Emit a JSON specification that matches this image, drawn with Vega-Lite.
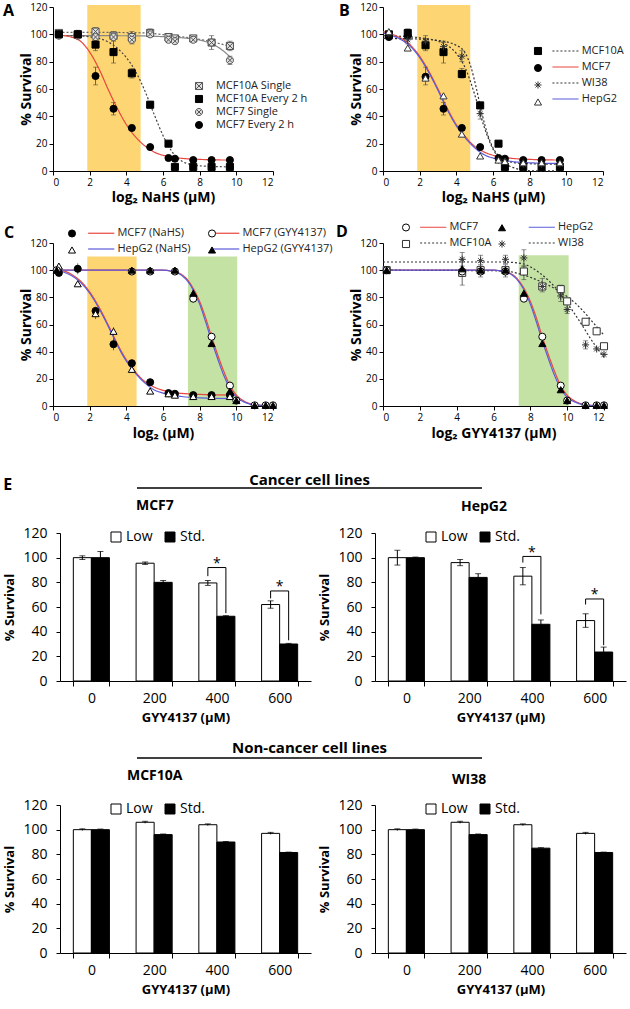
{
"$schema": "https://vega.github.io/schema/vega-lite/v6.json",
"background": "white",
"padding": {"left": 2, "top": 2, "right": 0, "bottom": 0},
"config": {
 "view": {"stroke": null},
 "font": "Open Sans",
 "axis": {"grid": false, "labelOverlap": false, "domainColor": "black", "tickColor": "black", "labelColor": "black", "titleColor": "black", "labelFont": "Open Sans", "titleFont": "Open Sans", "titleFontWeight": "bold", "tickSize": 4},
 "legend": {"labelFont": "Open Sans", "labelColor": "#222", "padding": 0},
 "title": {"font": "Open Sans", "fontWeight": "bold", "color": "black"}
},
"datasets": {
 "aCur": [
  {"fit":"MCF10A Single","x":0.3,"y":101.5},{"fit":"MCF10A Single","x":2,"y":101.5},{"fit":"MCF10A Single","x":4,"y":101.3},{"fit":"MCF10A Single","x":5,"y":101},{"fit":"MCF10A Single","x":6,"y":99.8},{"fit":"MCF10A Single","x":7,"y":98.3},{"fit":"MCF10A Single","x":8,"y":96.3},{"fit":"MCF10A Single","x":9,"y":93.5},{"fit":"MCF10A Single","x":9.7,"y":91},
  {"fit":"MCF7 Single","x":0.3,"y":99},{"fit":"MCF7 Single","x":3,"y":99},{"fit":"MCF7 Single","x":5,"y":98.8},{"fit":"MCF7 Single","x":6,"y":98.3},{"fit":"MCF7 Single","x":7,"y":97.5},{"fit":"MCF7 Single","x":8,"y":95.8},{"fit":"MCF7 Single","x":8.7,"y":92.8},{"fit":"MCF7 Single","x":9.2,"y":88.8},{"fit":"MCF7 Single","x":9.7,"y":83},
  {"fit":"MCF10A Every 2 h","x":0.3,"y":99.2},{"fit":"MCF10A Every 2 h","x":1.5,"y":98.8},{"fit":"MCF10A Every 2 h","x":2.5,"y":97},{"fit":"MCF10A Every 2 h","x":3,"y":94.5},{"fit":"MCF10A Every 2 h","x":3.5,"y":90},{"fit":"MCF10A Every 2 h","x":4,"y":83},{"fit":"MCF10A Every 2 h","x":4.5,"y":73},{"fit":"MCF10A Every 2 h","x":5,"y":59},{"fit":"MCF10A Every 2 h","x":5.5,"y":42},{"fit":"MCF10A Every 2 h","x":6,"y":26},{"fit":"MCF10A Every 2 h","x":6.5,"y":14},{"fit":"MCF10A Every 2 h","x":7,"y":7.5},{"fit":"MCF10A Every 2 h","x":7.5,"y":4.8},{"fit":"MCF10A Every 2 h","x":8,"y":3.8},{"fit":"MCF10A Every 2 h","x":9,"y":3.2},{"fit":"MCF10A Every 2 h","x":9.7,"y":3},
  {"fit":"MCF7 Every 2 h","x":0.3,"y":99.5},{"fit":"MCF7 Every 2 h","x":1,"y":98},{"fit":"MCF7 Every 2 h","x":1.5,"y":95},{"fit":"MCF7 Every 2 h","x":2,"y":87},{"fit":"MCF7 Every 2 h","x":2.5,"y":75},{"fit":"MCF7 Every 2 h","x":3,"y":60},{"fit":"MCF7 Every 2 h","x":3.5,"y":46},{"fit":"MCF7 Every 2 h","x":4,"y":34},{"fit":"MCF7 Every 2 h","x":4.5,"y":25},{"fit":"MCF7 Every 2 h","x":5,"y":18.5},{"fit":"MCF7 Every 2 h","x":5.5,"y":14},{"fit":"MCF7 Every 2 h","x":6,"y":11.5},{"fit":"MCF7 Every 2 h","x":6.5,"y":10.2},{"fit":"MCF7 Every 2 h","x":7,"y":9.3},{"fit":"MCF7 Every 2 h","x":8,"y":8.5},{"fit":"MCF7 Every 2 h","x":9,"y":8.1},{"fit":"MCF7 Every 2 h","x":9.7,"y":8}
 ],
 "aPts": [
  {"cell":"MCF10A Single","x":0.32,"y":101},{"cell":"MCF10A Single","x":1.35,"y":100},{"cell":"MCF10A Single","x":2.32,"y":102},{"cell":"MCF10A Single","x":3.3,"y":99},{"cell":"MCF10A Single","x":4.3,"y":98},{"cell":"MCF10A Single","x":5.3,"y":101},{"cell":"MCF10A Single","x":6.3,"y":98},{"cell":"MCF10A Single","x":6.65,"y":97},{"cell":"MCF10A Single","x":7.65,"y":97},{"cell":"MCF10A Single","x":8.65,"y":94},{"cell":"MCF10A Single","x":9.65,"y":91.5},
  {"cell":"MCF7 Single","x":0.32,"y":99},{"cell":"MCF7 Single","x":1.35,"y":99},{"cell":"MCF7 Single","x":2.32,"y":98},{"cell":"MCF7 Single","x":3.3,"y":98},{"cell":"MCF7 Single","x":4.3,"y":96},{"cell":"MCF7 Single","x":5.3,"y":100},{"cell":"MCF7 Single","x":6.3,"y":96},{"cell":"MCF7 Single","x":6.65,"y":95},{"cell":"MCF7 Single","x":7.65,"y":96},{"cell":"MCF7 Single","x":8.65,"y":94},{"cell":"MCF7 Single","x":9.65,"y":81},
  {"cell":"MCF10A Every 2 h","x":0.32,"y":100},{"cell":"MCF10A Every 2 h","x":1.35,"y":100},{"cell":"MCF10A Every 2 h","x":2.32,"y":92.5},{"cell":"MCF10A Every 2 h","x":3.3,"y":87},{"cell":"MCF10A Every 2 h","x":4.3,"y":71.5},{"cell":"MCF10A Every 2 h","x":5.3,"y":48.5},{"cell":"MCF10A Every 2 h","x":6.3,"y":20},{"cell":"MCF10A Every 2 h","x":6.65,"y":3},{"cell":"MCF10A Every 2 h","x":7.65,"y":3},{"cell":"MCF10A Every 2 h","x":8.65,"y":3},{"cell":"MCF10A Every 2 h","x":9.65,"y":3},
  {"cell":"MCF7 Every 2 h","x":0.32,"y":100},{"cell":"MCF7 Every 2 h","x":1.35,"y":100},{"cell":"MCF7 Every 2 h","x":2.32,"y":69.5},{"cell":"MCF7 Every 2 h","x":3.3,"y":45.5},{"cell":"MCF7 Every 2 h","x":4.3,"y":31.5},{"cell":"MCF7 Every 2 h","x":5.3,"y":17.5},{"cell":"MCF7 Every 2 h","x":6.3,"y":9.5},{"cell":"MCF7 Every 2 h","x":6.65,"y":9},{"cell":"MCF7 Every 2 h","x":7.65,"y":8},{"cell":"MCF7 Every 2 h","x":8.65,"y":8},{"cell":"MCF7 Every 2 h","x":9.65,"y":8}
 ],
 "aErr": [
  {"x":0.32,"lo":98,"hi":102},{"x":1.35,"lo":97,"hi":103},{"x":2.32,"lo":63,"hi":76},{"x":3.3,"lo":41,"hi":50},{"x":2.32,"lo":88,"hi":97},{"x":3.3,"lo":79,"hi":95},{"x":4.3,"lo":68,"hi":75},{"x":5.3,"lo":46,"hi":51},{"x":2.32,"lo":99,"hi":105},{"x":3.3,"lo":96,"hi":102},{"x":4.3,"lo":93,"hi":102},{"x":5.3,"lo":98,"hi":104},{"x":6.3,"lo":94,"hi":100},{"x":6.65,"lo":93,"hi":99},{"x":8.65,"lo":89,"hi":99},{"x":9.65,"lo":88,"hi":95},{"x":9.65,"lo":78,"hi":84}
 ],
 "bCur": [
  {"fit":"MCF10A","x":0,"y":99},{"fit":"MCF10A","x":1,"y":98.5},{"fit":"MCF10A","x":2,"y":97.5},{"fit":"MCF10A","x":3,"y":95},{"fit":"MCF10A","x":3.5,"y":92},{"fit":"MCF10A","x":4,"y":86},{"fit":"MCF10A","x":4.5,"y":75},{"fit":"MCF10A","x":5,"y":56},{"fit":"MCF10A","x":5.5,"y":33},{"fit":"MCF10A","x":6,"y":16},{"fit":"MCF10A","x":6.5,"y":7},{"fit":"MCF10A","x":7,"y":3},{"fit":"MCF10A","x":7.5,"y":1},{"fit":"MCF10A","x":8,"y":0.2},{"fit":"MCF10A","x":9.7,"y":0},
  {"fit":"MCF7","x":0,"y":102},{"fit":"MCF7","x":0.5,"y":100},{"fit":"MCF7","x":1,"y":97},{"fit":"MCF7","x":1.5,"y":92},{"fit":"MCF7","x":2,"y":84},{"fit":"MCF7","x":2.5,"y":73},{"fit":"MCF7","x":3,"y":60},{"fit":"MCF7","x":3.5,"y":46},{"fit":"MCF7","x":4,"y":34},{"fit":"MCF7","x":4.5,"y":25},{"fit":"MCF7","x":5,"y":18},{"fit":"MCF7","x":5.5,"y":14},{"fit":"MCF7","x":6,"y":11.5},{"fit":"MCF7","x":7,"y":9.3},{"fit":"MCF7","x":8,"y":8.5},{"fit":"MCF7","x":9.7,"y":8},
  {"fit":"WI38","x":0,"y":97},{"fit":"WI38","x":2,"y":96.5},{"fit":"WI38","x":3,"y":95.5},{"fit":"WI38","x":4,"y":92},{"fit":"WI38","x":4.5,"y":86},{"fit":"WI38","x":4.8,"y":76},{"fit":"WI38","x":5.1,"y":60},{"fit":"WI38","x":5.4,"y":42},{"fit":"WI38","x":5.7,"y":27},{"fit":"WI38","x":6,"y":17},{"fit":"WI38","x":6.5,"y":9},{"fit":"WI38","x":7,"y":6.5},{"fit":"WI38","x":8,"y":5.3},{"fit":"WI38","x":9.7,"y":5},
  {"fit":"HepG2","x":0,"y":101},{"fit":"HepG2","x":0.5,"y":99},{"fit":"HepG2","x":1,"y":96},{"fit":"HepG2","x":1.5,"y":91},{"fit":"HepG2","x":2,"y":83},{"fit":"HepG2","x":2.5,"y":72},{"fit":"HepG2","x":3,"y":59},{"fit":"HepG2","x":3.5,"y":45},{"fit":"HepG2","x":4,"y":33},{"fit":"HepG2","x":4.5,"y":24},{"fit":"HepG2","x":5,"y":17},{"fit":"HepG2","x":5.5,"y":12},{"fit":"HepG2","x":6,"y":9.5},{"fit":"HepG2","x":7,"y":7},{"fit":"HepG2","x":8,"y":6},{"fit":"HepG2","x":9.7,"y":5.5}
 ],
 "bPts": [
  {"cell":"MCF10A","x":0.32,"y":100},{"cell":"MCF10A","x":1.35,"y":101},{"cell":"MCF10A","x":2.32,"y":92},{"cell":"MCF10A","x":3.3,"y":87},{"cell":"MCF10A","x":4.3,"y":71},{"cell":"MCF10A","x":5.3,"y":48},{"cell":"MCF10A","x":6.3,"y":20},{"cell":"MCF10A","x":6.65,"y":3},{"cell":"MCF10A","x":7.65,"y":3},{"cell":"MCF10A","x":8.65,"y":3},{"cell":"MCF10A","x":9.65,"y":3},
  {"cell":"MCF7","x":0.32,"y":98},{"cell":"MCF7","x":1.35,"y":99},{"cell":"MCF7","x":2.32,"y":69},{"cell":"MCF7","x":3.3,"y":45.5},{"cell":"MCF7","x":4.3,"y":31.5},{"cell":"MCF7","x":5.3,"y":17.5},{"cell":"MCF7","x":6.3,"y":9.5},{"cell":"MCF7","x":6.65,"y":9},{"cell":"MCF7","x":7.65,"y":8},{"cell":"MCF7","x":8.65,"y":8},{"cell":"MCF7","x":9.65,"y":8},
  {"cell":"WI38","x":0.32,"y":100},{"cell":"WI38","x":1.35,"y":96},{"cell":"WI38","x":2.32,"y":95},{"cell":"WI38","x":3.3,"y":91},{"cell":"WI38","x":4.3,"y":84},{"cell":"WI38","x":5.3,"y":42},{"cell":"WI38","x":6.3,"y":8},{"cell":"WI38","x":6.65,"y":7},{"cell":"WI38","x":7.65,"y":5},{"cell":"WI38","x":8.65,"y":5},{"cell":"WI38","x":9.65,"y":5},
  {"cell":"HepG2","x":0.32,"y":102},{"cell":"HepG2","x":1.35,"y":90},{"cell":"HepG2","x":2.32,"y":68},{"cell":"HepG2","x":3.3,"y":55},{"cell":"HepG2","x":4.3,"y":27},{"cell":"HepG2","x":5.3,"y":11},{"cell":"HepG2","x":6.3,"y":8},{"cell":"HepG2","x":6.65,"y":7},{"cell":"HepG2","x":7.65,"y":6},{"cell":"HepG2","x":8.65,"y":6},{"cell":"HepG2","x":9.65,"y":6}
 ],
 "bErr": [
  {"x":1.35,"lo":97,"hi":104},{"x":2.32,"lo":88,"hi":97},{"x":3.3,"lo":79,"hi":95},{"x":4.3,"lo":68,"hi":75},{"x":2.32,"lo":63,"hi":76},{"x":3.3,"lo":41,"hi":50},{"x":4.3,"lo":80,"hi":88},{"x":5.3,"lo":38,"hi":46},{"x":1.35,"lo":93,"hi":99},{"x":2.32,"lo":92,"hi":99},{"x":3.3,"lo":88,"hi":94}
 ],
 "cCur": [
  {"fit":"MCF7 (NaHS)","x":0,"y":102},{"fit":"MCF7 (NaHS)","x":0.5,"y":100},{"fit":"MCF7 (NaHS)","x":1,"y":97},{"fit":"MCF7 (NaHS)","x":1.5,"y":92},{"fit":"MCF7 (NaHS)","x":2,"y":84},{"fit":"MCF7 (NaHS)","x":2.5,"y":73},{"fit":"MCF7 (NaHS)","x":3,"y":60},{"fit":"MCF7 (NaHS)","x":3.5,"y":46},{"fit":"MCF7 (NaHS)","x":4,"y":34},{"fit":"MCF7 (NaHS)","x":4.5,"y":25},{"fit":"MCF7 (NaHS)","x":5,"y":18},{"fit":"MCF7 (NaHS)","x":5.5,"y":14},{"fit":"MCF7 (NaHS)","x":6,"y":11.5},{"fit":"MCF7 (NaHS)","x":7,"y":9.3},{"fit":"MCF7 (NaHS)","x":8,"y":8.5},{"fit":"MCF7 (NaHS)","x":10,"y":8},
  {"fit":"HepG2 (NaHS)","x":0,"y":101},{"fit":"HepG2 (NaHS)","x":0.5,"y":99},{"fit":"HepG2 (NaHS)","x":1,"y":96},{"fit":"HepG2 (NaHS)","x":1.5,"y":91},{"fit":"HepG2 (NaHS)","x":2,"y":83},{"fit":"HepG2 (NaHS)","x":2.5,"y":72},{"fit":"HepG2 (NaHS)","x":3,"y":59},{"fit":"HepG2 (NaHS)","x":3.5,"y":45},{"fit":"HepG2 (NaHS)","x":4,"y":33},{"fit":"HepG2 (NaHS)","x":4.5,"y":24},{"fit":"HepG2 (NaHS)","x":5,"y":17},{"fit":"HepG2 (NaHS)","x":5.5,"y":12},{"fit":"HepG2 (NaHS)","x":6,"y":9.5},{"fit":"HepG2 (NaHS)","x":7,"y":7},{"fit":"HepG2 (NaHS)","x":8,"y":6},{"fit":"HepG2 (NaHS)","x":10,"y":5.5},
  {"fit":"MCF7 (GYY4137)","x":0,"y":100},{"fit":"MCF7 (GYY4137)","x":6,"y":100},{"fit":"MCF7 (GYY4137)","x":6.5,"y":99},{"fit":"MCF7 (GYY4137)","x":7,"y":97},{"fit":"MCF7 (GYY4137)","x":7.5,"y":90},{"fit":"MCF7 (GYY4137)","x":8,"y":77},{"fit":"MCF7 (GYY4137)","x":8.3,"y":66},{"fit":"MCF7 (GYY4137)","x":8.65,"y":51},{"fit":"MCF7 (GYY4137)","x":9,"y":37},{"fit":"MCF7 (GYY4137)","x":9.3,"y":26},{"fit":"MCF7 (GYY4137)","x":9.65,"y":15},{"fit":"MCF7 (GYY4137)","x":10,"y":8},{"fit":"MCF7 (GYY4137)","x":10.5,"y":3},{"fit":"MCF7 (GYY4137)","x":11,"y":1},{"fit":"MCF7 (GYY4137)","x":12,"y":0},
  {"fit":"HepG2 (GYY4137)","x":0,"y":100},{"fit":"HepG2 (GYY4137)","x":6,"y":100},{"fit":"HepG2 (GYY4137)","x":6.5,"y":99},{"fit":"HepG2 (GYY4137)","x":7,"y":96.5},{"fit":"HepG2 (GYY4137)","x":7.5,"y":89},{"fit":"HepG2 (GYY4137)","x":8,"y":75},{"fit":"HepG2 (GYY4137)","x":8.3,"y":63},{"fit":"HepG2 (GYY4137)","x":8.65,"y":48},{"fit":"HepG2 (GYY4137)","x":9,"y":34},{"fit":"HepG2 (GYY4137)","x":9.3,"y":23},{"fit":"HepG2 (GYY4137)","x":9.65,"y":13},{"fit":"HepG2 (GYY4137)","x":10,"y":6.5},{"fit":"HepG2 (GYY4137)","x":10.5,"y":2.5},{"fit":"HepG2 (GYY4137)","x":11,"y":0.8},{"fit":"HepG2 (GYY4137)","x":12,"y":0}
 ],
 "cPts": [
  {"cell":"MCF7 (NaHS)","x":0.32,"y":98},{"cell":"MCF7 (NaHS)","x":1.35,"y":101},{"cell":"MCF7 (NaHS)","x":2.32,"y":70},{"cell":"MCF7 (NaHS)","x":3.3,"y":45.5},{"cell":"MCF7 (NaHS)","x":4.3,"y":31.5},{"cell":"MCF7 (NaHS)","x":5.3,"y":17.5},{"cell":"MCF7 (NaHS)","x":6.3,"y":9.5},{"cell":"MCF7 (NaHS)","x":6.65,"y":9},{"cell":"MCF7 (NaHS)","x":7.65,"y":8},{"cell":"MCF7 (NaHS)","x":8.65,"y":8},{"cell":"MCF7 (NaHS)","x":9.65,"y":8},
  {"cell":"HepG2 (NaHS)","x":0.32,"y":103},{"cell":"HepG2 (NaHS)","x":1.35,"y":90},{"cell":"HepG2 (NaHS)","x":2.32,"y":68},{"cell":"HepG2 (NaHS)","x":3.3,"y":55},{"cell":"HepG2 (NaHS)","x":4.3,"y":27},{"cell":"HepG2 (NaHS)","x":5.3,"y":11},{"cell":"HepG2 (NaHS)","x":6.3,"y":9},{"cell":"HepG2 (NaHS)","x":6.65,"y":8},{"cell":"HepG2 (NaHS)","x":7.65,"y":7},{"cell":"HepG2 (NaHS)","x":8.65,"y":7},{"cell":"HepG2 (NaHS)","x":9.65,"y":7},
  {"cell":"MCF7 (GYY4137)","x":0.2,"y":100},{"cell":"MCF7 (GYY4137)","x":4.3,"y":99},{"cell":"MCF7 (GYY4137)","x":5.3,"y":99},{"cell":"MCF7 (GYY4137)","x":6.65,"y":99},{"cell":"MCF7 (GYY4137)","x":7.65,"y":79},{"cell":"MCF7 (GYY4137)","x":8.65,"y":51},{"cell":"MCF7 (GYY4137)","x":9.65,"y":15},{"cell":"MCF7 (GYY4137)","x":10,"y":4},{"cell":"MCF7 (GYY4137)","x":11,"y":0.5},{"cell":"MCF7 (GYY4137)","x":11.6,"y":0.5},{"cell":"MCF7 (GYY4137)","x":12,"y":0.5},
  {"cell":"HepG2 (GYY4137)","x":0.2,"y":100},{"cell":"HepG2 (GYY4137)","x":4.3,"y":100},{"cell":"HepG2 (GYY4137)","x":5.3,"y":100},{"cell":"HepG2 (GYY4137)","x":6.65,"y":100},{"cell":"HepG2 (GYY4137)","x":7.65,"y":83},{"cell":"HepG2 (GYY4137)","x":8.65,"y":46},{"cell":"HepG2 (GYY4137)","x":9.65,"y":11},{"cell":"HepG2 (GYY4137)","x":10,"y":4},{"cell":"HepG2 (GYY4137)","x":11,"y":0.5},{"cell":"HepG2 (GYY4137)","x":11.6,"y":0.5},{"cell":"HepG2 (GYY4137)","x":12,"y":0.5}
 ],
 "cErr": [
  {"x":0.32,"lo":96,"hi":100},{"x":1.35,"lo":97,"hi":105},{"x":2.32,"lo":64,"hi":73},{"x":3.3,"lo":41,"hi":50},{"x":3.3,"lo":52,"hi":58},{"x":4.3,"lo":97,"hi":101},{"x":5.3,"lo":97,"hi":101},{"x":7.65,"lo":76,"hi":86},{"x":8.65,"lo":48,"hi":54},{"x":9.65,"lo":12,"hi":18}
 ],
 "dCur": [
  {"fit":"MCF7","x":0,"y":100},{"fit":"MCF7","x":6,"y":100},{"fit":"MCF7","x":6.5,"y":99},{"fit":"MCF7","x":7,"y":97},{"fit":"MCF7","x":7.5,"y":90},{"fit":"MCF7","x":8,"y":77},{"fit":"MCF7","x":8.3,"y":66},{"fit":"MCF7","x":8.65,"y":51},{"fit":"MCF7","x":9,"y":37},{"fit":"MCF7","x":9.3,"y":26},{"fit":"MCF7","x":9.65,"y":15},{"fit":"MCF7","x":10,"y":8},{"fit":"MCF7","x":10.5,"y":3},{"fit":"MCF7","x":11,"y":1},{"fit":"MCF7","x":12,"y":0},
  {"fit":"MCF10A","x":0,"y":100},{"fit":"MCF10A","x":6.5,"y":99.5},{"fit":"MCF10A","x":7.5,"y":97},{"fit":"MCF10A","x":8.5,"y":92},{"fit":"MCF10A","x":9.5,"y":85},{"fit":"MCF10A","x":10.5,"y":75},{"fit":"MCF10A","x":11.5,"y":60},{"fit":"MCF10A","x":12,"y":52},
  {"fit":"HepG2","x":0,"y":100},{"fit":"HepG2","x":6,"y":100},{"fit":"HepG2","x":6.5,"y":99},{"fit":"HepG2","x":7,"y":96.5},{"fit":"HepG2","x":7.5,"y":89},{"fit":"HepG2","x":8,"y":75},{"fit":"HepG2","x":8.3,"y":63},{"fit":"HepG2","x":8.65,"y":48},{"fit":"HepG2","x":9,"y":34},{"fit":"HepG2","x":9.3,"y":23},{"fit":"HepG2","x":9.65,"y":13},{"fit":"HepG2","x":10,"y":6.5},{"fit":"HepG2","x":10.5,"y":2.5},{"fit":"HepG2","x":11,"y":0.8},{"fit":"HepG2","x":12,"y":0},
  {"fit":"WI38","x":0,"y":106},{"fit":"WI38","x":6.5,"y":106},{"fit":"WI38","x":7.5,"y":105},{"fit":"WI38","x":8.5,"y":98},{"fit":"WI38","x":9.5,"y":85},{"fit":"WI38","x":10.5,"y":66},{"fit":"WI38","x":11.5,"y":45},{"fit":"WI38","x":12,"y":36}
 ],
 "dPts": [
  {"cell":"MCF10A","x":0.2,"y":100},{"cell":"MCF10A","x":4.3,"y":98},{"cell":"MCF10A","x":5.3,"y":100},{"cell":"MCF10A","x":6.65,"y":100},{"cell":"MCF10A","x":7.65,"y":99},{"cell":"MCF10A","x":8.65,"y":88},{"cell":"MCF10A","x":9.65,"y":86},{"cell":"MCF10A","x":10,"y":77},{"cell":"MCF10A","x":11,"y":62},{"cell":"MCF10A","x":11.6,"y":55},{"cell":"MCF10A","x":12,"y":44},
  {"cell":"WI38","x":4.3,"y":108},{"cell":"WI38","x":5.3,"y":107},{"cell":"WI38","x":6.65,"y":108},{"cell":"WI38","x":7.65,"y":109},{"cell":"WI38","x":8.65,"y":88},{"cell":"WI38","x":9.65,"y":81},{"cell":"WI38","x":10,"y":71},{"cell":"WI38","x":11,"y":45},{"cell":"WI38","x":11.6,"y":42},{"cell":"WI38","x":12,"y":38},
  {"cell":"MCF7","x":0.2,"y":100},{"cell":"MCF7","x":4.3,"y":99},{"cell":"MCF7","x":5.3,"y":99},{"cell":"MCF7","x":6.65,"y":99},{"cell":"MCF7","x":7.65,"y":79},{"cell":"MCF7","x":8.65,"y":51},{"cell":"MCF7","x":9.65,"y":15},{"cell":"MCF7","x":10,"y":4},{"cell":"MCF7","x":11,"y":0.5},{"cell":"MCF7","x":11.6,"y":0.5},{"cell":"MCF7","x":12,"y":0.5},
  {"cell":"HepG2","x":0.2,"y":100},{"cell":"HepG2","x":4.3,"y":101},{"cell":"HepG2","x":5.3,"y":100},{"cell":"HepG2","x":6.65,"y":100},{"cell":"HepG2","x":7.65,"y":83},{"cell":"HepG2","x":8.65,"y":46},{"cell":"HepG2","x":9.65,"y":12},{"cell":"HepG2","x":10,"y":4},{"cell":"HepG2","x":11,"y":0.5},{"cell":"HepG2","x":11.6,"y":0.5},{"cell":"HepG2","x":12,"y":0.5}
 ],
 "dErr": [
  {"x":4.3,"lo":89,"hi":108},{"x":4.3,"lo":103,"hi":113},{"x":5.3,"lo":95,"hi":104},{"x":5.3,"lo":103,"hi":111},{"x":6.65,"lo":95,"hi":104},{"x":6.65,"lo":105,"hi":111},{"x":7.65,"lo":103,"hi":115},{"x":7.65,"lo":93,"hi":103},{"x":8.65,"lo":84,"hi":94},{"x":9.65,"lo":82,"hi":89},{"x":9.65,"lo":77,"hi":85},{"x":10,"lo":68,"hi":75},{"x":11,"lo":42,"hi":48}
 ],
 "mcf7": [
  {"dose":"0","grp":"Low","v":100,"lo":98.5,"hi":101.5},{"dose":"0","grp":"Std.","v":100,"lo":95,"hi":105},
  {"dose":"200","grp":"Low","v":95.5,"lo":94.5,"hi":96.5},{"dose":"200","grp":"Std.","v":80,"lo":78.5,"hi":81.5},
  {"dose":"400","grp":"Low","v":79.5,"lo":77.5,"hi":81.5},{"dose":"400","grp":"Std.","v":52.5,"lo":52,"hi":53},
  {"dose":"600","grp":"Low","v":62,"lo":59,"hi":65},{"dose":"600","grp":"Std.","v":30,"lo":29.5,"hi":30.5}
 ],
 "hepg2": [
  {"dose":"0","grp":"Low","v":100,"lo":94,"hi":106},{"dose":"0","grp":"Std.","v":100,"lo":99.5,"hi":100.5},
  {"dose":"200","grp":"Low","v":96,"lo":93.5,"hi":98.5},{"dose":"200","grp":"Std.","v":84,"lo":81,"hi":87},
  {"dose":"400","grp":"Low","v":85,"lo":78,"hi":92},{"dose":"400","grp":"Std.","v":46,"lo":42.5,"hi":49.5},
  {"dose":"600","grp":"Low","v":49,"lo":43.5,"hi":54.5},{"dose":"600","grp":"Std.","v":23.5,"lo":19.5,"hi":27.5}
 ],
 "mcf10a": [
  {"dose":"0","grp":"Low","v":100,"lo":99.3,"hi":100.7},{"dose":"0","grp":"Std.","v":100,"lo":99.5,"hi":100.5},
  {"dose":"200","grp":"Low","v":106,"lo":105.2,"hi":106.8},{"dose":"200","grp":"Std.","v":96,"lo":95.5,"hi":96.5},
  {"dose":"400","grp":"Low","v":104,"lo":103.3,"hi":104.7},{"dose":"400","grp":"Std.","v":90,"lo":89.6,"hi":90.4},
  {"dose":"600","grp":"Low","v":97,"lo":96.2,"hi":97.8},{"dose":"600","grp":"Std.","v":81.5,"lo":81.2,"hi":81.8}
 ],
 "wi38": [
  {"dose":"0","grp":"Low","v":100,"lo":99.3,"hi":100.7},{"dose":"0","grp":"Std.","v":100,"lo":99.5,"hi":100.5},
  {"dose":"200","grp":"Low","v":106,"lo":105.2,"hi":106.8},{"dose":"200","grp":"Std.","v":96,"lo":95.5,"hi":96.5},
  {"dose":"400","grp":"Low","v":104,"lo":103.3,"hi":104.7},{"dose":"400","grp":"Std.","v":85,"lo":84.6,"hi":85.4},
  {"dose":"600","grp":"Low","v":97,"lo":96.2,"hi":97.8},{"dose":"600","grp":"Std.","v":81.5,"lo":81.2,"hi":81.8}
 ],
 "mcf7Br": [
  {"b":"a","o":1,"dose":"400","grp":"Low","y":85},{"b":"a","o":2,"dose":"400","grp":"Low","y":92},{"b":"a","o":3,"dose":"400","grp":"Std.","y":92},{"b":"a","o":4,"dose":"400","grp":"Std.","y":55},
  {"b":"b","o":1,"dose":"600","grp":"Low","y":67},{"b":"b","o":2,"dose":"600","grp":"Low","y":73},{"b":"b","o":3,"dose":"600","grp":"Std.","y":73},{"b":"b","o":4,"dose":"600","grp":"Std.","y":33}
 ],
 "hepg2Br": [
  {"b":"a","o":1,"dose":"400","grp":"Low","y":96},{"b":"a","o":2,"dose":"400","grp":"Low","y":101},{"b":"a","o":3,"dose":"400","grp":"Std.","y":101},{"b":"a","o":4,"dose":"400","grp":"Std.","y":54},
  {"b":"b","o":1,"dose":"600","grp":"Low","y":62},{"b":"b","o":2,"dose":"600","grp":"Low","y":66.5},{"b":"b","o":3,"dose":"600","grp":"Std.","y":66.5},{"b":"b","o":4,"dose":"600","grp":"Std.","y":29}
 ],
 "mcf7St": [{"dose":"400","y":95,"t":"*"},{"dose":"600","y":76,"t":"*"}],
 "hepg2St": [{"dose":"400","y":104,"t":"*"},{"dose":"600","y":69.5,"t":"*"}]
},
"bounds": "flush",
"columns": 2,
"spacing": {"row": 72, "column": 72},
"resolve": {"scale": {"fill": "independent", "stroke": "independent", "shape": "independent", "color": "independent", "strokeDash": "independent"}},
"concat": [
 {"width": 220, "height": 164,
  "layer": [
   {"data": {"values": [{"a": 1.87, "b": 4.78}]}, "mark": {"type": "rect", "color": "#FDD673"},
    "encoding": {
     "x": {"field": "a", "type": "quantitative", "scale": {"domain": [0, 12]}, "axis": {"title": "log₂ NaHS (μM)", "values": [0,2,4,6,8,10,12], "tickCount": 20, "format": "d", "labelFontSize": 10, "labelPadding": 2, "titleFontSize": 14, "titlePadding": 3}},
     "x2": {"field": "b"},
     "y": {"datum": 0, "type": "quantitative", "scale": {"domain": [0, 120]}, "axis": {"title": "% Survival", "values": [0,20,40,60,80,100,120], "tickCount": 20, "format": "d", "labelFontSize": 10, "labelPadding": 2, "titleFontSize": 14, "titlePadding": -4}},
     "y2": {"datum": 121.5}}},
   {"data": {"name": "aCur"}, "mark": {"type": "line", "interpolate": "monotone", "strokeWidth": 1.2},
    "encoding": {"x": {"field": "x", "type": "quantitative"}, "y": {"field": "y", "type": "quantitative"},
     "color": {"field": "fit", "type": "nominal", "sort": null, "scale": {"range": ["#666666","#888888","#444444","#E8463E"]}, "legend": null},
     "strokeDash": {"field": "fit", "type": "nominal", "sort": null, "scale": {"range": [[2,2],[1,0],[2,2],[1,0]]}, "legend": null}}},
   {"data": {"name": "aErr"}, "mark": {"type": "rule", "color": "#444", "strokeWidth": 0.8}, "encoding": {"x": {"field": "x", "type": "quantitative"}, "y": {"field": "lo", "type": "quantitative"}, "y2": {"field": "hi"}}},
   {"data": {"name": "aErr"}, "mark": {"type": "tick", "orient": "horizontal", "size": 5, "thickness": 0.8, "color": "#444"}, "encoding": {"x": {"field": "x", "type": "quantitative"}, "y": {"field": "lo", "type": "quantitative"}}},
   {"data": {"name": "aErr"}, "mark": {"type": "tick", "orient": "horizontal", "size": 5, "thickness": 0.8, "color": "#444"}, "encoding": {"x": {"field": "x", "type": "quantitative"}, "y": {"field": "hi", "type": "quantitative"}}},
   {"data": {"name": "aPts"}, "mark": {"type": "point", "size": 50, "opacity": 1, "strokeWidth": 1},
    "encoding": {"x": {"field": "x", "type": "quantitative"}, "y": {"field": "y", "type": "quantitative"},
     "shape": {"field": "cell", "type": "nominal", "scale": {"domain": ["MCF10A Single","MCF10A Every 2 h","MCF7 Single","MCF7 Every 2 h"], "range": ["M-1,-1H1V1H-1ZM-1,-1L1,1M1,-1L-1,1","square","M1,0A1,1,0,1,1,-1,0A1,1,0,1,1,1,0ZM-0.7,-0.7L0.7,0.7M0.7,-0.7L-0.7,0.7","circle"]},
      "legend": {"title": null, "orient": "none", "legendX": 140.5, "legendY": 73.5, "symbolSize": 50, "symbolStrokeWidth": 1, "labelFontSize": 11, "labelOffset": 11.4, "rowPadding": 0}},
     "fill": {"field": "cell", "type": "nominal", "scale": {"domain": ["MCF10A Single","MCF10A Every 2 h","MCF7 Single","MCF7 Every 2 h"], "range": ["#e0e0e0","black","#e0e0e0","black"]},
      "legend": {"title": null, "orient": "none", "legendX": 140.5, "legendY": 73.5, "symbolSize": 50, "symbolStrokeWidth": 1, "labelFontSize": 11, "labelOffset": 11.4, "rowPadding": 0}},
     "stroke": {"field": "cell", "type": "nominal", "scale": {"domain": ["MCF10A Single","MCF10A Every 2 h","MCF7 Single","MCF7 Every 2 h"], "range": ["#555555","black","#555555","black"]},
      "legend": {"title": null, "orient": "none", "legendX": 140.5, "legendY": 73.5, "symbolSize": 50, "symbolStrokeWidth": 1, "labelFontSize": 11, "labelOffset": 11.4, "rowPadding": 0}}}},
   {"data": {"values": [{}]}, "mark": {"type": "text", "fontSize": 16, "fontWeight": "bold", "align": "left", "baseline": "middle", "color": "black"},
    "encoding": {"x": {"datum": -2.73, "type": "quantitative"}, "y": {"datum": 117.4, "type": "quantitative"}, "text": {"value": "A"}}}
  ]},
 {"width": 220, "height": 164,
  "layer": [
   {"data": {"values": [{"a": 1.87, "b": 4.76}]}, "mark": {"type": "rect", "color": "#FDD673"},
    "encoding": {
     "x": {"field": "a", "type": "quantitative", "scale": {"domain": [0, 12]}, "axis": {"title": "log₂ NaHS (μM)", "values": [0,2,4,6,8,10,12], "tickCount": 20, "format": "d", "labelFontSize": 10, "labelPadding": 2, "titleFontSize": 14, "titlePadding": 3}},
     "x2": {"field": "b"},
     "y": {"datum": 0, "type": "quantitative", "scale": {"domain": [0, 120]}, "axis": {"title": "% Survival", "values": [0,20,40,60,80,100,120], "tickCount": 20, "format": "d", "labelFontSize": 10, "labelPadding": 2, "titleFontSize": 14, "titlePadding": -4}},
     "y2": {"datum": 121.5}}},
   {"data": {"name": "bCur"}, "mark": {"type": "line", "interpolate": "monotone", "strokeWidth": 1.2},
    "encoding": {"x": {"field": "x", "type": "quantitative"}, "y": {"field": "y", "type": "quantitative"},
     "color": {"field": "fit", "type": "nominal", "sort": null, "scale": {"range": ["#333333","#E8463E","#333333","#5B5BD9"]},
      "legend": {"title": null, "orient": "none", "legendX": 177, "legendY": 38.5, "symbolType": "M-3,0H3", "symbolSize": 76, "symbolStrokeWidth": 1.2, "labelFontSize": 11, "labelOffset": 10.7, "rowPadding": 4}},
     "strokeDash": {"field": "fit", "type": "nominal", "sort": null, "scale": {"range": [[2,2],[1,0],[2,2],[1,0]]},
      "legend": {"title": null, "orient": "none", "legendX": 177, "legendY": 38.5, "symbolType": "M-3,0H3", "symbolSize": 76, "symbolStrokeWidth": 1.2, "labelFontSize": 11, "labelOffset": 10.7, "rowPadding": 4}}}},
   {"data": {"name": "bErr"}, "mark": {"type": "rule", "color": "#444", "strokeWidth": 0.8}, "encoding": {"x": {"field": "x", "type": "quantitative"}, "y": {"field": "lo", "type": "quantitative"}, "y2": {"field": "hi"}}},
   {"data": {"name": "bErr"}, "mark": {"type": "tick", "orient": "horizontal", "size": 5, "thickness": 0.8, "color": "#444"}, "encoding": {"x": {"field": "x", "type": "quantitative"}, "y": {"field": "lo", "type": "quantitative"}}},
   {"data": {"name": "bErr"}, "mark": {"type": "tick", "orient": "horizontal", "size": 5, "thickness": 0.8, "color": "#444"}, "encoding": {"x": {"field": "x", "type": "quantitative"}, "y": {"field": "hi", "type": "quantitative"}}},
   {"data": {"name": "bPts"}, "mark": {"type": "point", "size": 50, "opacity": 1, "strokeWidth": 1},
    "encoding": {"x": {"field": "x", "type": "quantitative"}, "y": {"field": "y", "type": "quantitative"},
     "shape": {"field": "cell", "type": "nominal", "scale": {"domain": ["MCF10A","MCF7","WI38","HepG2"], "range": ["square","circle","M-1,0H1M0,-1V1M-0.7,-0.7L0.7,0.7M-0.7,0.7L0.7,-0.7","triangle-up"]},
      "legend": {"title": null, "orient": "none", "legendX": 149.5, "legendY": 38.5, "symbolSize": 50, "symbolStrokeWidth": 1, "labelExpr": "''", "labelFontSize": 11, "labelOffset": 0, "rowPadding": 4}},
     "fill": {"field": "cell", "type": "nominal", "scale": {"domain": ["MCF10A","MCF7","WI38","HepG2"], "range": ["black","black","white","white"]},
      "legend": {"title": null, "orient": "none", "legendX": 149.5, "legendY": 38.5, "symbolSize": 50, "symbolStrokeWidth": 1, "labelExpr": "''", "labelFontSize": 11, "labelOffset": 0, "rowPadding": 4}},
     "stroke": {"field": "cell", "type": "nominal", "scale": {"domain": ["MCF10A","MCF7","WI38","HepG2"], "range": ["black","black","#333333","#333333"]},
      "legend": {"title": null, "orient": "none", "legendX": 149.5, "legendY": 38.5, "symbolSize": 50, "symbolStrokeWidth": 1, "labelExpr": "''", "labelFontSize": 11, "labelOffset": 0, "rowPadding": 4}}}},
   {"data": {"values": [{}]}, "mark": {"type": "text", "fontSize": 16, "fontWeight": "bold", "align": "left", "baseline": "middle", "color": "black"},
    "encoding": {"x": {"datum": -2.4, "type": "quantitative"}, "y": {"datum": 117.4, "type": "quantitative"}, "text": {"value": "B"}}}
  ]},
 {"width": 220, "height": 163,
  "layer": [
   {"data": {"values": [{"a": 1.87, "b": 4.56}]}, "mark": {"type": "rect", "color": "#FDD673"},
    "encoding": {
     "x": {"field": "a", "type": "quantitative", "scale": {"domain": [0, 12]}, "axis": {"title": "log₂ (μM)", "values": [0,2,4,6,8,10,12], "tickCount": 20, "format": "d", "labelFontSize": 10, "labelPadding": 2, "titleFontSize": 14, "titlePadding": 4}},
     "x2": {"field": "b"},
     "y": {"datum": 0, "type": "quantitative", "scale": {"domain": [0, 120]}, "axis": {"title": "% Survival", "values": [0,20,40,60,80,100,120], "tickCount": 20, "format": "d", "labelFontSize": 10, "labelPadding": 2, "titleFontSize": 14, "titlePadding": -4}},
     "y2": {"datum": 110}}},
   {"data": {"values": [{"a": 7.36, "b": 10.05}]}, "mark": {"type": "rect", "color": "#C5E2A5"},
    "encoding": {"x": {"field": "a", "type": "quantitative"}, "x2": {"field": "b"}, "y": {"datum": 0, "type": "quantitative"}, "y2": {"datum": 110}}},
   {"data": {"name": "cCur"}, "mark": {"type": "line", "interpolate": "monotone", "strokeWidth": 1.2},
    "encoding": {"x": {"field": "x", "type": "quantitative"}, "y": {"field": "y", "type": "quantitative"},
     "color": {"field": "fit", "type": "nominal", "sort": null, "scale": {"range": ["#E8463E","#5B5BD9","#E8463E","#5B5BD9"]},
      "legend": {"title": null, "orient": "none", "legendX": 42.7, "legendY": -15.5, "columns": 2, "columnPadding": 20, "symbolType": "M-3,0H3", "symbolSize": 76, "symbolStrokeWidth": 1.2, "labelFontSize": 11, "labelOffset": 10.7, "rowPadding": 4}}}},
   {"data": {"name": "cErr"}, "mark": {"type": "rule", "color": "#444", "strokeWidth": 0.8}, "encoding": {"x": {"field": "x", "type": "quantitative"}, "y": {"field": "lo", "type": "quantitative"}, "y2": {"field": "hi"}}},
   {"data": {"name": "cPts"}, "mark": {"type": "point", "size": 50, "opacity": 1, "strokeWidth": 1},
    "encoding": {"x": {"field": "x", "type": "quantitative"}, "y": {"field": "y", "type": "quantitative"},
     "shape": {"field": "cell", "type": "nominal", "scale": {"domain": ["MCF7 (NaHS)","HepG2 (NaHS)","MCF7 (GYY4137)","HepG2 (GYY4137)"], "range": ["circle","triangle-up","circle","triangle-up"]},
      "legend": {"title": null, "orient": "none", "legendX": 13.5, "legendY": -15.5, "columns": 2, "columnPadding": 127, "symbolSize": 50, "symbolStrokeWidth": 1, "labelExpr": "''", "labelFontSize": 11, "labelOffset": 0, "rowPadding": 4}},
     "fill": {"field": "cell", "type": "nominal", "scale": {"domain": ["MCF7 (NaHS)","HepG2 (NaHS)","MCF7 (GYY4137)","HepG2 (GYY4137)"], "range": ["black","white","white","black"]},
      "legend": {"title": null, "orient": "none", "legendX": 13.5, "legendY": -15.5, "columns": 2, "columnPadding": 127, "symbolSize": 50, "symbolStrokeWidth": 1, "labelExpr": "''", "labelFontSize": 11, "labelOffset": 0, "rowPadding": 4}},
     "stroke": {"field": "cell", "type": "nominal", "scale": {"domain": ["MCF7 (NaHS)","HepG2 (NaHS)","MCF7 (GYY4137)","HepG2 (GYY4137)"], "range": ["black","black","black","black"]},
      "legend": {"title": null, "orient": "none", "legendX": 13.5, "legendY": -15.5, "columns": 2, "columnPadding": 127, "symbolSize": 50, "symbolStrokeWidth": 1, "labelExpr": "''", "labelFontSize": 11, "labelOffset": 0, "rowPadding": 4}}}},
   {"data": {"values": [{}]}, "mark": {"type": "text", "fontSize": 16, "fontWeight": "bold", "align": "left", "baseline": "middle", "color": "black"},
    "encoding": {"x": {"datum": -2.67, "type": "quantitative"}, "y": {"datum": 127, "type": "quantitative"}, "text": {"value": "C"}}}
  ]},
 {"width": 221, "height": 163,
  "layer": [
   {"data": {"values": [{"a": 7.37, "b": 10.08}]}, "mark": {"type": "rect", "color": "#C5E2A5"},
    "encoding": {
     "x": {"field": "a", "type": "quantitative", "scale": {"domain": [0, 12]}, "axis": {"title": "log₂ GYY4137 (μM)", "values": [0,2,4,6,8,10,12], "tickCount": 20, "format": "d", "labelFontSize": 10, "labelPadding": 2, "titleFontSize": 14, "titlePadding": 4}},
     "x2": {"field": "b"},
     "y": {"datum": 0, "type": "quantitative", "scale": {"domain": [0, 120]}, "axis": {"title": "% Survival", "values": [0,20,40,60,80,100,120], "tickCount": 20, "format": "d", "labelFontSize": 10, "labelPadding": 2, "titleFontSize": 14, "titlePadding": -4}},
     "y2": {"datum": 111}}},
   {"data": {"name": "dCur"}, "mark": {"type": "line", "interpolate": "monotone", "strokeWidth": 1.2},
    "encoding": {"x": {"field": "x", "type": "quantitative"}, "y": {"field": "y", "type": "quantitative"},
     "color": {"field": "fit", "type": "nominal", "sort": null, "scale": {"range": ["#E8463E","#333333","#5B5BD9","#333333"]},
      "legend": {"title": null, "orient": "none", "legendX": 44.7, "legendY": -21.5, "columns": 2, "columnPadding": 34.6, "symbolType": "M-3,0H3", "symbolSize": 76, "symbolStrokeWidth": 1.2, "labelFontSize": 11, "labelOffset": 10.7, "rowPadding": 4}},
     "strokeDash": {"field": "fit", "type": "nominal", "sort": null, "scale": {"range": [[1,0],[2,2],[1,0],[2,2]]},
      "legend": {"title": null, "orient": "none", "legendX": 44.7, "legendY": -21.5, "columns": 2, "columnPadding": 34.6, "symbolType": "M-3,0H3", "symbolSize": 76, "symbolStrokeWidth": 1.2, "labelFontSize": 11, "labelOffset": 10.7, "rowPadding": 4}}}},
   {"data": {"name": "dErr"}, "mark": {"type": "rule", "color": "#444", "strokeWidth": 0.8}, "encoding": {"x": {"field": "x", "type": "quantitative"}, "y": {"field": "lo", "type": "quantitative"}, "y2": {"field": "hi"}}},
   {"data": {"name": "dErr"}, "mark": {"type": "tick", "orient": "horizontal", "size": 5, "thickness": 0.8, "color": "#444"}, "encoding": {"x": {"field": "x", "type": "quantitative"}, "y": {"field": "lo", "type": "quantitative"}}},
   {"data": {"name": "dErr"}, "mark": {"type": "tick", "orient": "horizontal", "size": 5, "thickness": 0.8, "color": "#444"}, "encoding": {"x": {"field": "x", "type": "quantitative"}, "y": {"field": "hi", "type": "quantitative"}}},
   {"data": {"name": "dPts"}, "mark": {"type": "point", "size": 50, "opacity": 1, "strokeWidth": 1},
    "encoding": {"x": {"field": "x", "type": "quantitative"}, "y": {"field": "y", "type": "quantitative"},
     "shape": {"field": "cell", "type": "nominal", "scale": {"domain": ["MCF7","MCF10A","HepG2","WI38"], "range": ["circle","square","triangle-up","M-1,0H1M0,-1V1M-0.7,-0.7L0.7,0.7M-0.7,0.7L0.7,-0.7"]},
      "legend": {"title": null, "orient": "none", "legendX": 17.5, "legendY": -21.5, "columns": 2, "columnPadding": 83, "symbolSize": 50, "symbolStrokeWidth": 1, "labelExpr": "''", "labelFontSize": 11, "labelOffset": 0, "rowPadding": 4}},
     "fill": {"field": "cell", "type": "nominal", "scale": {"domain": ["MCF7","MCF10A","HepG2","WI38"], "range": ["white","white","black","white"]},
      "legend": {"title": null, "orient": "none", "legendX": 17.5, "legendY": -21.5, "columns": 2, "columnPadding": 83, "symbolSize": 50, "symbolStrokeWidth": 1, "labelExpr": "''", "labelFontSize": 11, "labelOffset": 0, "rowPadding": 4}},
     "stroke": {"field": "cell", "type": "nominal", "scale": {"domain": ["MCF7","MCF10A","HepG2","WI38"], "range": ["black","#333333","black","#333333"]},
      "legend": {"title": null, "orient": "none", "legendX": 17.5, "legendY": -21.5, "columns": 2, "columnPadding": 83, "symbolSize": 50, "symbolStrokeWidth": 1, "labelExpr": "''", "labelFontSize": 11, "labelOffset": 0, "rowPadding": 4}}}},
   {"data": {"values": [{}]}, "mark": {"type": "text", "fontSize": 16, "fontWeight": "bold", "align": "left", "baseline": "middle", "color": "black"},
    "encoding": {"x": {"datum": -2.55, "type": "quantitative"}, "y": {"datum": 128.1, "type": "quantitative"}, "text": {"value": "D"}}}
  ]},
 {"width": 258, "height": 203,
  "title": {"text": "MCF7", "anchor": "start", "frame": "group", "dx": 83, "offset": -40, "fontSize": 14},
  "resolve": {"scale": {"x": "independent"}},
  "layer": [
   {"data": {"name": "mcf7"},
    "layer": [
     {"mark": {"type": "bar", "stroke": "black", "strokeWidth": 1},
      "encoding": {
       "x": {"field": "dose", "type": "nominal", "sort": ["0","200","400","600"], "scale": {"range": [7, 258], "paddingInner": 0.425, "paddingOuter": 0.2125}, "axis": {"title": "GYY4137 (μM)", "labelAngle": 0, "tickBand": "extent", "labelFontSize": 14, "labelPadding": 5, "tickSize": 5, "titleFontSize": 13, "titlePadding": 6}},
       "xOffset": {"field": "grp", "type": "nominal", "sort": ["Low","Std."], "scale": {"paddingInner": 0, "paddingOuter": 0}},
       "y": {"field": "v", "type": "quantitative", "scale": {"domain": [0, 120], "range": [203, 55], "nice": false}, "axis": {"title": "% Survival", "values": [0,20,40,60,80,100,120], "tickCount": 20, "format": "d", "offset": -7, "labelFontSize": 14, "labelPadding": 9, "tickSize": 4, "titleFontSize": 13, "titlePadding": 6}},
       "fill": {"field": "grp", "type": "nominal", "sort": ["Low","Std."], "scale": {"range": ["white","black"]},
        "legend": {"title": null, "orient": "none", "legendX": 56, "legendY": 52, "direction": "horizontal", "symbolType": "square", "symbolSize": 100, "symbolStrokeColor": "black", "symbolStrokeWidth": 1, "labelFontSize": 14, "labelOffset": 3, "columnPadding": 10, "labelColor": "black"}}}},
     {"mark": {"type": "rule", "color": "black", "strokeWidth": 1}, "encoding": {"x": {"field": "dose", "type": "nominal", "sort": ["0","200","400","600"]}, "xOffset": {"field": "grp", "type": "nominal", "sort": ["Low","Std."]}, "y": {"field": "lo", "type": "quantitative"}, "y2": {"field": "hi"}}},
     {"mark": {"type": "tick", "color": "black", "size": 6, "thickness": 1}, "encoding": {"x": {"field": "dose", "type": "nominal", "sort": ["0","200","400","600"]}, "xOffset": {"field": "grp", "type": "nominal", "sort": ["Low","Std."]}, "y": {"field": "lo", "type": "quantitative"}}},
     {"mark": {"type": "tick", "color": "black", "size": 6, "thickness": 1}, "encoding": {"x": {"field": "dose", "type": "nominal", "sort": ["0","200","400","600"]}, "xOffset": {"field": "grp", "type": "nominal", "sort": ["Low","Std."]}, "y": {"field": "hi", "type": "quantitative"}}},
     {"data": {"name": "mcf7Br"}, "mark": {"type": "line", "color": "black", "strokeWidth": 1}, "encoding": {"x": {"field": "dose", "type": "nominal", "sort": ["0","200","400","600"]}, "xOffset": {"field": "grp", "type": "nominal", "sort": ["Low","Std."]}, "y": {"field": "y", "type": "quantitative"}, "order": {"field": "o", "type": "quantitative"}, "detail": {"field": "b", "type": "nominal"}}},
     {"data": {"name": "mcf7St"}, "mark": {"type": "text", "fontSize": 14, "color": "black"}, "encoding": {"x": {"field": "dose", "type": "nominal", "sort": ["0","200","400","600"]}, "y": {"field": "y", "type": "quantitative"}, "text": {"field": "t"}}}
    ]},
   {"data": {"values": [{}]},
    "layer": [
     {"mark": {"type": "rule", "color": "black", "strokeWidth": 1.5}, "encoding": {"x": {"datum": 0, "type": "quantitative", "scale": {"domain": [0, 1], "range": [84, 429]}, "axis": null}, "x2": {"datum": 1}, "y": {"datum": 156.5, "type": "quantitative"}}},
     {"mark": {"type": "text", "fontSize": 15, "fontWeight": "bold", "baseline": "middle", "color": "black"}, "encoding": {"x": {"datum": 0.5, "type": "quantitative"}, "y": {"datum": 163, "type": "quantitative"}, "text": {"value": "Cancer cell lines"}}},
     {"mark": {"type": "text", "fontSize": 16, "fontWeight": "bold", "baseline": "middle", "align": "left", "color": "black"}, "encoding": {"x": {"datum": -0.388, "type": "quantitative"}, "y": {"datum": 159, "type": "quantitative"}, "text": {"value": "E"}}}
    ]}
  ]},
 {"width": 243, "height": 203,
  "title": {"text": "HepG2", "anchor": "start", "frame": "group", "dx": 78, "offset": -36, "fontSize": 14},
  "data": {"name": "hepg2"},
  "layer": [
   {"mark": {"type": "bar", "stroke": "black", "strokeWidth": 1},
    "encoding": {
     "x": {"field": "dose", "type": "nominal", "sort": ["0","200","400","600"], "scale": {"range": [-8, 243], "paddingInner": 0.425, "paddingOuter": 0.2125}, "axis": {"title": "GYY4137 (μM)", "labelAngle": 0, "tickBand": "extent", "labelFontSize": 14, "labelPadding": 5, "tickSize": 5, "titleFontSize": 13, "titlePadding": 6}},
     "xOffset": {"field": "grp", "type": "nominal", "sort": ["Low","Std."], "scale": {"paddingInner": 0, "paddingOuter": 0}},
     "y": {"field": "v", "type": "quantitative", "scale": {"domain": [0, 120], "range": [203, 55], "nice": false}, "axis": {"title": "% Survival", "values": [0,20,40,60,80,100,120], "tickCount": 20, "format": "d", "offset": 8, "labelFontSize": 14, "labelPadding": 9, "tickSize": 4, "titleFontSize": 13, "titlePadding": 6}},
     "fill": {"field": "grp", "type": "nominal", "sort": ["Low","Std."], "scale": {"range": ["white","black"]},
      "legend": {"title": null, "orient": "none", "legendX": 41, "legendY": 52, "direction": "horizontal", "symbolType": "square", "symbolSize": 100, "symbolStrokeColor": "black", "symbolStrokeWidth": 1, "labelFontSize": 14, "labelOffset": 3, "columnPadding": 10, "labelColor": "black"}}}},
   {"mark": {"type": "rule", "color": "black", "strokeWidth": 1}, "encoding": {"x": {"field": "dose", "type": "nominal", "sort": ["0","200","400","600"]}, "xOffset": {"field": "grp", "type": "nominal", "sort": ["Low","Std."]}, "y": {"field": "lo", "type": "quantitative"}, "y2": {"field": "hi"}}},
   {"mark": {"type": "tick", "color": "black", "size": 6, "thickness": 1}, "encoding": {"x": {"field": "dose", "type": "nominal", "sort": ["0","200","400","600"]}, "xOffset": {"field": "grp", "type": "nominal", "sort": ["Low","Std."]}, "y": {"field": "lo", "type": "quantitative"}}},
   {"mark": {"type": "tick", "color": "black", "size": 6, "thickness": 1}, "encoding": {"x": {"field": "dose", "type": "nominal", "sort": ["0","200","400","600"]}, "xOffset": {"field": "grp", "type": "nominal", "sort": ["Low","Std."]}, "y": {"field": "hi", "type": "quantitative"}}},
   {"data": {"name": "hepg2Br"}, "mark": {"type": "line", "color": "black", "strokeWidth": 1}, "encoding": {"x": {"field": "dose", "type": "nominal", "sort": ["0","200","400","600"]}, "xOffset": {"field": "grp", "type": "nominal", "sort": ["Low","Std."]}, "y": {"field": "y", "type": "quantitative"}, "order": {"field": "o", "type": "quantitative"}, "detail": {"field": "b", "type": "nominal"}}},
   {"data": {"name": "hepg2St"}, "mark": {"type": "text", "fontSize": 14, "color": "black"}, "encoding": {"x": {"field": "dose", "type": "nominal", "sort": ["0","200","400","600"]}, "y": {"field": "y", "type": "quantitative"}, "text": {"field": "t"}}}
  ]},
 {"width": 258, "height": 200,
  "title": {"text": "MCF10A", "anchor": "start", "frame": "group", "dx": 74, "offset": -42, "fontSize": 14},
  "resolve": {"scale": {"x": "independent"}},
  "layer": [
   {"data": {"name": "mcf10a"},
    "layer": [
     {"mark": {"type": "bar", "stroke": "black", "strokeWidth": 1},
      "encoding": {
       "x": {"field": "dose", "type": "nominal", "sort": ["0","200","400","600"], "scale": {"range": [7, 258], "paddingInner": 0.425, "paddingOuter": 0.2125}, "axis": {"title": "GYY4137 (μM)", "labelAngle": 0, "tickBand": "extent", "labelFontSize": 14, "labelPadding": 5, "tickSize": 5, "titleFontSize": 13, "titlePadding": 6}},
       "xOffset": {"field": "grp", "type": "nominal", "sort": ["Low","Std."], "scale": {"paddingInner": 0, "paddingOuter": 0}},
       "y": {"field": "v", "type": "quantitative", "scale": {"domain": [0, 120], "range": [200, 52], "nice": false}, "axis": {"title": "% Survival", "values": [0,20,40,60,80,100,120], "tickCount": 20, "format": "d", "offset": -7, "labelFontSize": 14, "labelPadding": 9, "tickSize": 4, "titleFontSize": 13, "titlePadding": 6}},
       "fill": {"field": "grp", "type": "nominal", "sort": ["Low","Std."], "scale": {"range": ["white","black"]},
        "legend": {"title": null, "orient": "none", "legendX": 56, "legendY": 49, "direction": "horizontal", "symbolType": "square", "symbolSize": 100, "symbolStrokeColor": "black", "symbolStrokeWidth": 1, "labelFontSize": 14, "labelOffset": 3, "columnPadding": 10, "labelColor": "black"}}}},
     {"mark": {"type": "rule", "color": "black", "strokeWidth": 1}, "encoding": {"x": {"field": "dose", "type": "nominal", "sort": ["0","200","400","600"]}, "xOffset": {"field": "grp", "type": "nominal", "sort": ["Low","Std."]}, "y": {"field": "lo", "type": "quantitative"}, "y2": {"field": "hi"}}},
     {"mark": {"type": "tick", "color": "black", "size": 6, "thickness": 1}, "encoding": {"x": {"field": "dose", "type": "nominal", "sort": ["0","200","400","600"]}, "xOffset": {"field": "grp", "type": "nominal", "sort": ["Low","Std."]}, "y": {"field": "hi", "type": "quantitative"}}}
    ]},
   {"data": {"values": [{}]},
    "layer": [
     {"mark": {"type": "rule", "color": "black", "strokeWidth": 1.5}, "encoding": {"x": {"datum": 0, "type": "quantitative", "scale": {"domain": [0, 1], "range": [84, 429]}, "axis": null}, "x2": {"datum": 1}, "y": {"datum": 158.1, "type": "quantitative"}}},
     {"mark": {"type": "text", "fontSize": 15, "fontWeight": "bold", "baseline": "middle", "color": "black"}, "encoding": {"x": {"datum": 0.5, "type": "quantitative"}, "y": {"datum": 166.2, "type": "quantitative"}, "text": {"value": "Non-cancer cell lines"}}}
    ]}
  ]},
 {"width": 243, "height": 200,
  "title": {"text": "WI38", "anchor": "start", "frame": "group", "dx": 69, "offset": -34, "fontSize": 14},
  "data": {"name": "wi38"},
  "layer": [
   {"mark": {"type": "bar", "stroke": "black", "strokeWidth": 1},
    "encoding": {
     "x": {"field": "dose", "type": "nominal", "sort": ["0","200","400","600"], "scale": {"range": [-8, 243], "paddingInner": 0.425, "paddingOuter": 0.2125}, "axis": {"title": "GYY4137 (μM)", "labelAngle": 0, "tickBand": "extent", "labelFontSize": 14, "labelPadding": 5, "tickSize": 5, "titleFontSize": 13, "titlePadding": 6}},
     "xOffset": {"field": "grp", "type": "nominal", "sort": ["Low","Std."], "scale": {"paddingInner": 0, "paddingOuter": 0}},
     "y": {"field": "v", "type": "quantitative", "scale": {"domain": [0, 120], "range": [200, 52], "nice": false}, "axis": {"title": "% Survival", "values": [0,20,40,60,80,100,120], "tickCount": 20, "format": "d", "offset": 8, "labelFontSize": 14, "labelPadding": 9, "tickSize": 4, "titleFontSize": 13, "titlePadding": 6}},
     "fill": {"field": "grp", "type": "nominal", "sort": ["Low","Std."], "scale": {"range": ["white","black"]},
      "legend": {"title": null, "orient": "none", "legendX": 41, "legendY": 49, "direction": "horizontal", "symbolType": "square", "symbolSize": 100, "symbolStrokeColor": "black", "symbolStrokeWidth": 1, "labelFontSize": 14, "labelOffset": 3, "columnPadding": 10, "labelColor": "black"}}}},
   {"mark": {"type": "rule", "color": "black", "strokeWidth": 1}, "encoding": {"x": {"field": "dose", "type": "nominal", "sort": ["0","200","400","600"]}, "xOffset": {"field": "grp", "type": "nominal", "sort": ["Low","Std."]}, "y": {"field": "lo", "type": "quantitative"}, "y2": {"field": "hi"}}},
   {"mark": {"type": "tick", "color": "black", "size": 6, "thickness": 1}, "encoding": {"x": {"field": "dose", "type": "nominal", "sort": ["0","200","400","600"]}, "xOffset": {"field": "grp", "type": "nominal", "sort": ["Low","Std."]}, "y": {"field": "hi", "type": "quantitative"}}}
  ]}
]
}
